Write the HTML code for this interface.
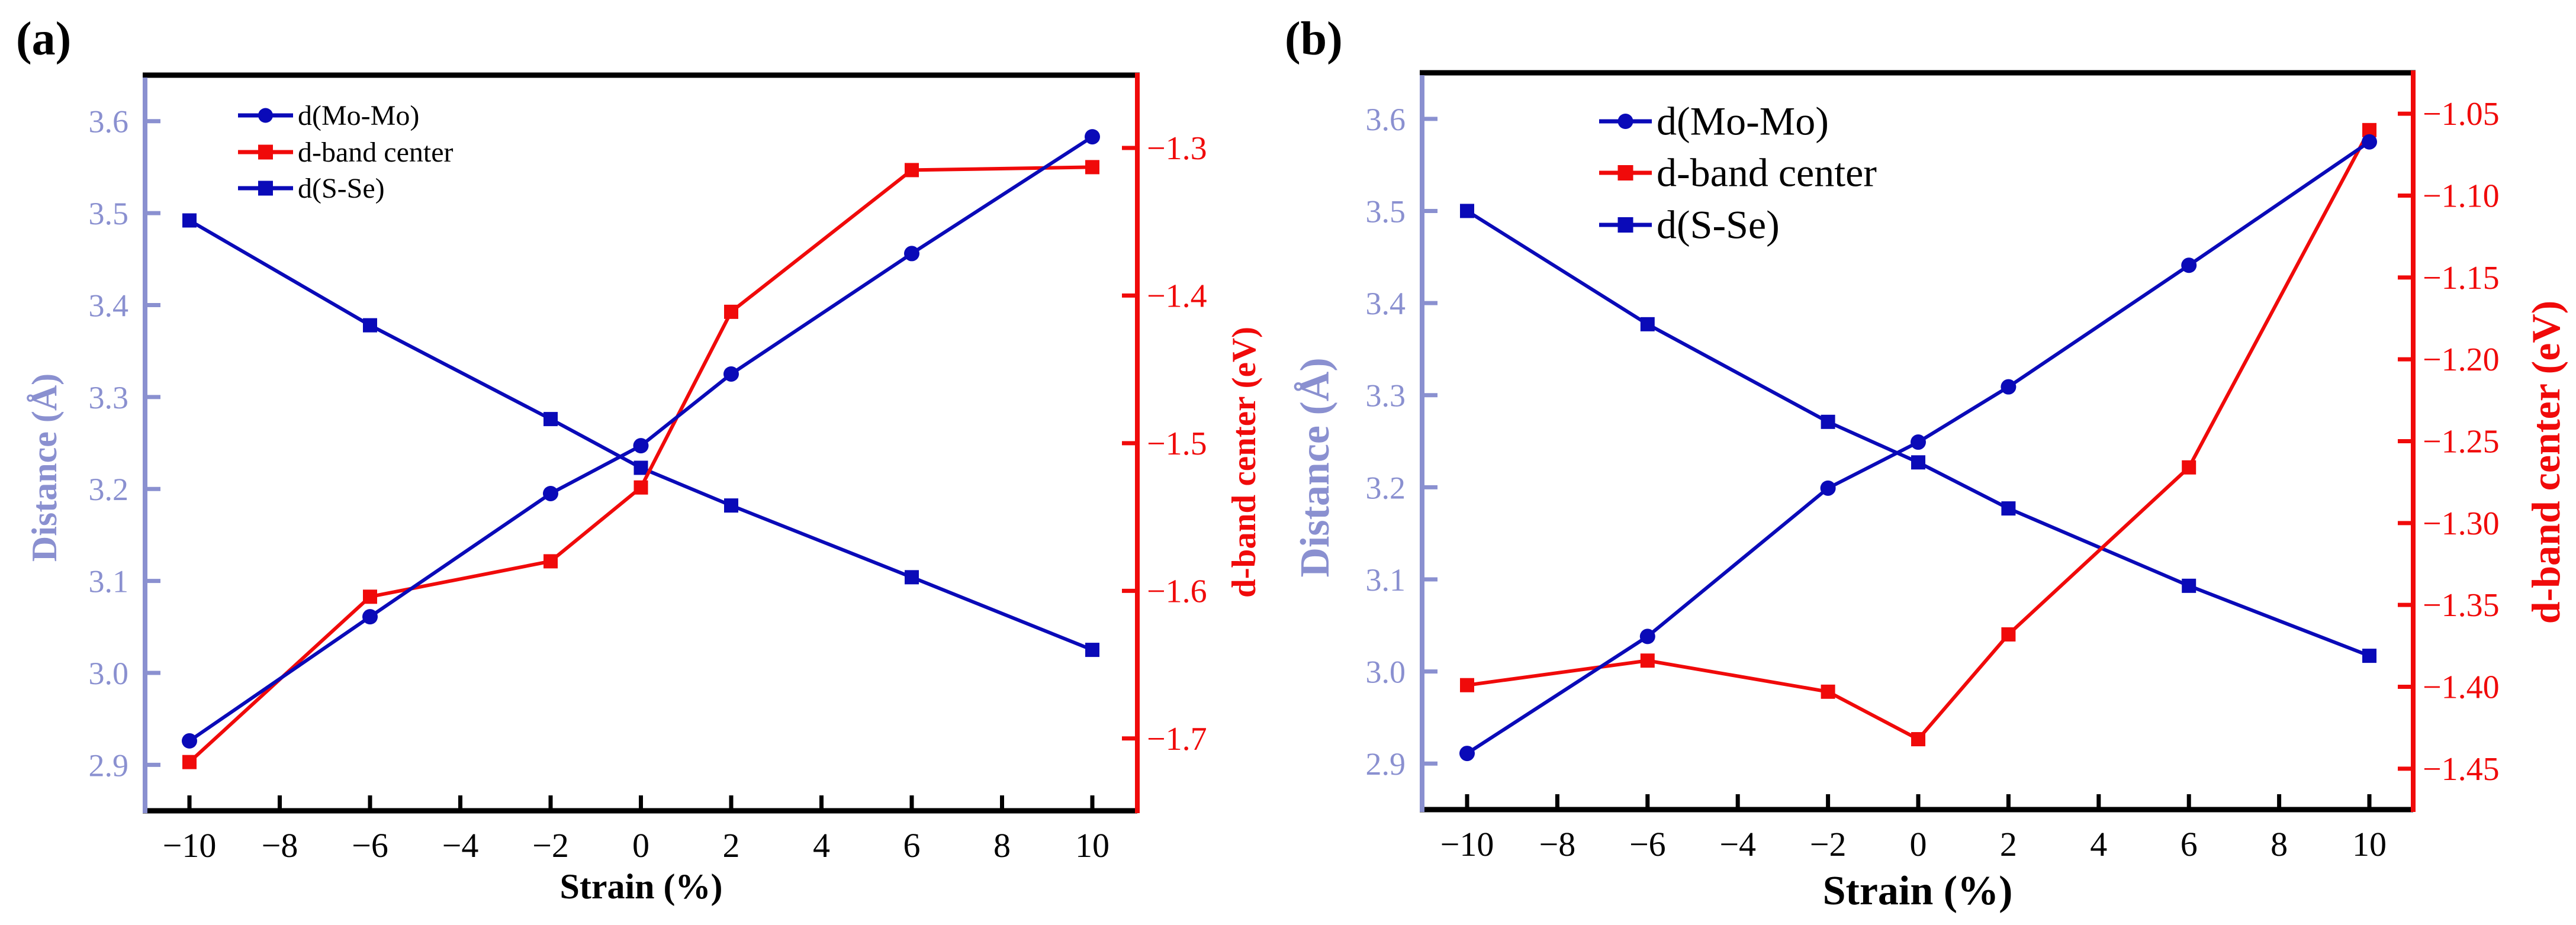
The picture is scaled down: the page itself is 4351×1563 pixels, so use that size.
<!DOCTYPE html>
<html><head><meta charset="utf-8"><style>
html,body{margin:0;padding:0;background:#fff;}
svg{display:block;font-family:"Liberation Serif",serif;}
</style></head>
<body>
<svg id="fig" width="4351" height="1563" viewBox="0 0 4351 1563"></svg>
<script>
// ---- data ----
const strainCats = [-10, -6, -2, 0, 2, 6, 10];
const xTickLabels = [-10, -8, -6, -4, -2, 0, 2, 4, 6, 8, 10];
const leftTickLabels = [2.9, 3.0, 3.1, 3.2, 3.3, 3.4, 3.5, 3.6];
const rightTickLabelsA = [-1.7, -1.6, -1.5, -1.4, -1.3];
const rightTickLabelsB = [-1.45, -1.40, -1.35, -1.30, -1.25, -1.20, -1.15, -1.10, -1.05];
const moMoA = [2.926, 3.061, 3.195, 3.247, 3.325, 3.456, 3.583];
const sSeA = [3.492, 3.378, 3.276, 3.223, 3.182, 3.104, 3.025];
const dBandA = [-1.716, -1.604, -1.580, -1.530, -1.411, -1.315, -1.313];
const moMoB = [2.911, 3.038, 3.199, 3.249, 3.309, 3.441, 3.575];
const sSeB = [3.500, 3.377, 3.271, 3.227, 3.177, 3.093, 3.017];
const dBandB = [-1.399, -1.384, -1.403, -1.432, -1.368, -1.266, -1.060];

const NS = "http://www.w3.org/2000/svg";
const svg = document.getElementById('fig');
const BLUE = "#0a0ab8", RED = "#f00a0a", LB = "#8a90d0";

function mk(tag, attrs, parent) {
  const e = document.createElementNS(NS, tag);
  for (const k in attrs) e.setAttribute(k, attrs[k]);
  (parent || svg).appendChild(e);
  return e;
}
function fmt(v, d) { const s = Math.abs(v).toFixed(d); return (v < 0 ? "\u2212" : "") + s; }

function drawPanel(p) {
  const g = mk('g', {});
  
  
  const X = v => p.x0 + (v + 10) * p.xu;
  const YL = v => p.top + (3.65 - v) / 0.8 * (p.bot - p.top);
  const YR = v => p.top + (p.rMax - v) / (p.rMax - p.rMin) * (p.bot - p.top);

  const lab = mk('text', {x: p.labX, y: 92, 'font-size': 80, 'font-weight': 'bold', fill: '#000'}, g);
  lab.textContent = p.label;
  
  

  const top = mk('line', {x1: p.left - 4, y1: p.top, x2: p.right + 4, y2: p.top, stroke: '#000', 'stroke-width': 9}, g);
  
  
  const bot = mk('line', {x1: p.left - 4, y1: p.bot, x2: p.right, y2: p.bot, stroke: '#000', 'stroke-width': 9}, g);
  
  
  const la = mk('line', {x1: p.left, y1: p.top + 4, x2: p.left, y2: p.bot + 4, stroke: LB, 'stroke-width': 8}, g);
  
  
  const ra = mk('line', {x1: p.right, y1: p.top - 4, x2: p.right, y2: p.bot + 4, stroke: RED, 'stroke-width': 8}, g);
  
  

  xTickLabels.forEach(v => {
    const t = mk('line', {x1: X(v), y1: p.bot, x2: X(v), y2: p.bot - 26, stroke: '#000', 'stroke-width': 7}, g);
    
    
    const tx = mk('text', {x: X(v), y: p.bot + 78, 'font-size': 58, 'text-anchor': 'middle', fill: '#000'}, g);
    tx.textContent = fmt(v, 0);
    
    
  });
  leftTickLabels.forEach(v => {
    const t = mk('line', {x1: p.left, y1: YL(v), x2: p.left + 26, y2: YL(v), stroke: LB, 'stroke-width': 7}, g);
    
    
    const tx = mk('text', {x: p.left - 28, y: YL(v) + 19, 'font-size': 54, 'text-anchor': 'end', fill: LB}, g);
    tx.textContent = v.toFixed(1);
    
    
  });
  p.rTicks.forEach(v => {
    const t = mk('line', {x1: p.right, y1: YR(v), x2: p.right - 26, y2: YR(v), stroke: RED, 'stroke-width': 7}, g);
    
    
    const tx = mk('text', {x: p.right + 16, y: YR(v) + 19, 'font-size': 56, fill: RED}, g);
    tx.textContent = fmt(v, p.rDec);
    
    
  });

  const xt = mk('text', {x: (p.left + p.right) / 2, y: p.xTitleY, 'font-size': p.titleSize, 'font-weight': 'bold', 'text-anchor': 'middle', fill: '#000'}, g);
  xt.textContent = 'Strain (%)';
  
  
  const lt = mk('text', {x: 0, y: 0, 'font-size': p.titleSize, 'font-weight': 'bold', 'text-anchor': 'middle', fill: LB,
    transform: `translate(${p.lTitleX},790) rotate(-90)`}, g);
  lt.textContent = 'Distance (\u00C5)';
  
  
  const rt = mk('text', {x: 0, y: 0, 'font-size': p.rTitleSize, 'font-weight': 'bold', 'text-anchor': 'middle', fill: RED,
    transform: `translate(${p.rTitleX},781) rotate(-90)`}, g);
  rt.textContent = 'd-band center (eV)';
  
  

  function series(vals, Y, color, shape, name) {
    const pts = strainCats.map((c, i) => X(c) + ',' + Y(vals[i])).join(' ');
    const l = mk('polyline', {points: pts, fill: 'none', stroke: color, 'stroke-width': 6, 'stroke-linejoin': 'round'}, g);
    
    
    strainCats.forEach((c, i) => {
      let m;
      if (shape === 'circle') m = mk('circle', {cx: X(c), cy: Y(vals[i]), r: 13, fill: color}, g);
      else m = mk('rect', {x: X(c) - 12, y: Y(vals[i]) - 12, width: 24, height: 24, fill: color}, g);
      
      
    });
  }
  series(p.sse, YL, BLUE, 'rect', 'd-s-se');
  series(p.dband, YR, RED, 'rect', 'd-band-center');
  series(p.momo, YL, BLUE, 'circle', 'd-mo-mo');

  const entries = [['d(Mo-Mo)', BLUE, 'circle'], ['d-band center', RED, 'rect'], ['d(S-Se)', BLUE, 'rect']];
  entries.forEach((en, i) => {
    const y = p.legY[i];
    const lg = mk('g', {}, g);
    
    
    mk('line', {x1: p.legX1, y1: y, x2: p.legX2, y2: y, stroke: en[1], 'stroke-width': 7}, lg);
    const mx = (p.legX1 + p.legX2) / 2;
    if (en[2] === 'circle') mk('circle', {cx: mx, cy: y, r: p.legM / 2, fill: en[1]}, lg);
    else mk('rect', {x: mx - p.legM / 2, y: y - p.legM / 2, width: p.legM, height: p.legM, fill: en[1]}, lg);
    const t = mk('text', {x: p.legX2 + 8, y: y + p.legFont * 0.33, 'font-size': p.legFont, fill: '#000'}, lg);
    t.textContent = en[0];
  });
}

drawPanel({name: 'panel-a', label: '(a)', labX: 27, x0: 320, xu: 76.25, left: 245, right: 1921, top: 127, bot: 1370,
  rMax: -1.2507, rMin: -1.749, rTicks: rightTickLabelsA, rDec: 1, momo: moMoA, sse: sSeA, dband: dBandA,
  xTitleY: 1518, titleSize: 60, lTitleX: 95, rTitleX: 2120, rTitleSize: 57,
  legX1: 402, legX2: 495, legY: [195, 257, 318], legFont: 48, legM: 25});
drawPanel({name: 'panel-b', label: '(b)', labX: 2170, x0: 2478, xu: 76.2, left: 2402, right: 4076, top: 123, bot: 1368,
  rMax: -1.025, rMin: -1.475, rTicks: rightTickLabelsB, rDec: 2, momo: moMoB, sse: sSeB, dband: dBandB,
  xTitleY: 1528, titleSize: 70, lTitleX: 2244, rTitleX: 4323, rTitleSize: 68,
  legX1: 2701, legX2: 2790, legY: [205, 292, 380], legFont: 68, legM: 26});
</script>
</body></html>
